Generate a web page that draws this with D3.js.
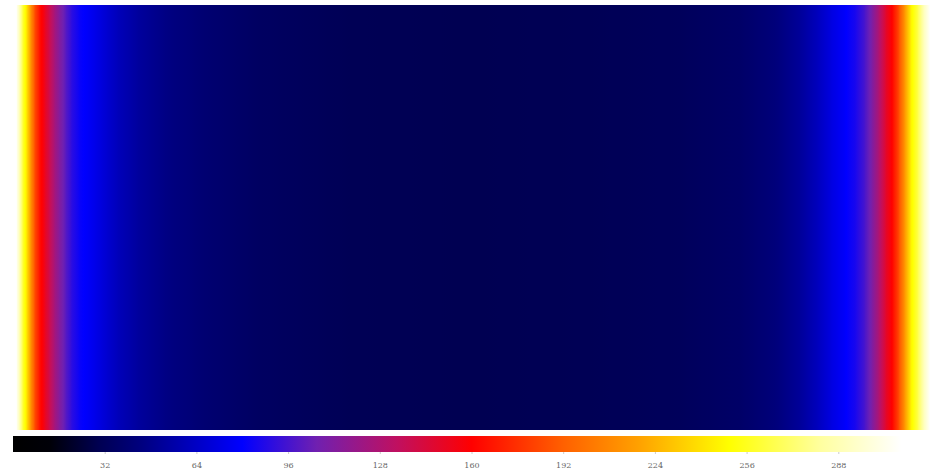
<!DOCTYPE html>
<html><head><meta charset="utf-8">
<script src="https://cdn.jsdelivr.net/npm/d3@7"></script>
<style>body{margin:0;background:#fff}svg{display:block}</style>
</head><body>
<svg id="c" width="932" height="470"></svg>
<script>
// Column positions (pixel-like horizontal coordinate across the field, 17..930)
const colPos = [17,20,23,27,31,35,40,45,50,55,60,66,72,80,90,102,118,138,165,205,260,350,470,590,680,740,775,800,818,832,845,856,865,872,879,886,893,899,905,911,918,924,930];
// Field value at each column (constant down each column)
const colVal = [305,285,262,240,212,185,165,152,138,124,112,100,90,82,77,70,61,53,46,40,35,31,30,31,33,37,43,52,62,72,79,86,97,110,128,148,163,185,215,245,265,290,310];
// Colour bar
const cbDomain = [0, 320];
const tickVals = [32,64,96,128,160,192,224,256,288];
// Colour map stops
const cmapVals = [0,13,30,45,80,106,134,160,192,218,250,282,310,320];
const cmapCols = ["#000000","#000008","#000052","#000080","#0000ff","#7020b0","#c01060","#ff0000","#ff6000","#ffa000","#ffff00","#ffffa0","#ffffff","#ffffff"];

const svg = d3.select("#c");
const defs = svg.append("defs");
const color = d3.scaleLinear().domain(cmapVals).range(cmapCols).clamp(true);

const W = {x0:17, x1:930, y0:5, y1:430};
const x = d3.scaleLinear().domain([17,930]).range([W.x0, W.x1]);
const y = d3.scaleBand().domain(["row"]).range([W.y0, W.y1]);

const cells = d3.range(colPos.length-1).map(i=>({i, a:colPos[i], b:colPos[i+1], va:colVal[i], vb:colVal[i+1]}));
cells.forEach(c=>{
  const g = defs.append("linearGradient").attr("id","g"+c.i).attr("x1","0%").attr("x2","100%").attr("y1","0%").attr("y2","0%");
  d3.range(0,1.0001,0.125).forEach(t=>{
    g.append("stop").attr("offset",(t*100)+"%").attr("stop-color", color(c.va+(c.vb-c.va)*t));
  });
});
svg.append("g").selectAll("rect").data(cells).join("rect")
  .attr("x", d=>x(d.a)-0.3).attr("width", d=>x(d.b)-x(d.a)+0.6)
  .attr("y", y("row")).attr("height", y.bandwidth())
  .attr("fill", d=>"url(#g"+d.i+")");

// colour bar
const cb = {x0:13, x1:930, y0:436, y1:452};
const cx = d3.scaleLinear().domain(cbDomain).range([cb.x0, cb.x1]);
const cg = defs.append("linearGradient").attr("id","cbg").attr("x1","0%").attr("x2","100%").attr("y1","0%").attr("y2","0%");
cmapVals.forEach((v,i)=>cg.append("stop").attr("offset",((v-cbDomain[0])/(cbDomain[1]-cbDomain[0])*100)+"%").attr("stop-color",cmapCols[i]));
svg.append("rect").attr("x",cb.x0).attr("y",cb.y0).attr("width",cb.x1-cb.x0).attr("height",cb.y1-cb.y0).attr("fill","url(#cbg)");

const ax = svg.append("g").attr("transform",`translate(0,${cb.y1})`)
  .call(d3.axisBottom(cx).tickValues(tickVals).tickSize(2).tickPadding(8));
ax.select(".domain").remove();
ax.selectAll(".tick line").attr("stroke","#ccc");
ax.selectAll(".tick text").attr("fill","#666").attr("font-family","DejaVu Serif").attr("font-size",8);
</script>
</body></html>
